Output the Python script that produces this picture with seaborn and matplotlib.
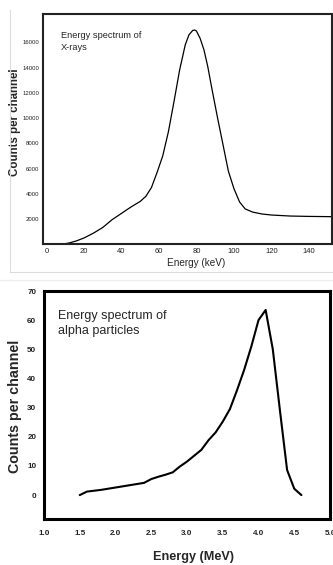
import numpy as np
import pandas as pd
import matplotlib
matplotlib.use("Agg")
import matplotlib.pyplot as plt
from matplotlib.lines import Line2D
import seaborn as sns

# X-ray spectrum (keV, counts per channel)
xray_energy = [8, 12, 16, 20, 25, 30, 35, 40, 45, 50, 53, 56, 59, 62, 65, 68, 71, 74,
               76, 78, 79, 80, 82, 84, 86, 88, 91, 94, 97, 100, 103, 106, 110, 115, 120,
               130, 140, 152]
xray_counts = [0, 100, 270, 500, 880, 1330, 1950, 2450, 2950, 3400, 3800, 4500, 5700, 7000,
               8900, 11300, 13800, 15800, 16600, 16950, 16980, 16900, 16300, 15400, 14100,
               12500, 10200, 8000, 5800, 4400, 3350, 2800, 2550, 2400, 2320, 2240, 2210, 2190]

# alpha spectrum (MeV, counts per channel)
alpha_energy = [1.5, 1.6, 1.7, 1.8, 1.9, 2.0, 2.1, 2.2, 2.3, 2.4, 2.5, 2.6, 2.7, 2.8, 2.9, 3.0,
                3.1, 3.2, 3.3, 3.4, 3.5, 3.6, 3.7, 3.8, 3.9, 4.0, 4.1, 4.2, 4.3, 4.4, 4.5, 4.6]
alpha_counts = [0, 1.2, 1.5, 1.8, 2.2, 2.6, 3.0, 3.4, 3.8, 4.2, 5.5, 6.3, 7.0, 7.8, 9.8, 11.5,
                13.5, 15.5, 18.8, 21.5, 25.2, 29.5, 36, 43, 51, 60, 63.5, 50, 29, 8.6, 2.2, 0]

xray_xticks = [0, 20, 40, 60, 80, 100, 120, 140]
xray_yticks = [2000, 4000, 6000, 8000, 10000, 12000, 14000, 16000]
alpha_xticks = [1.0, 1.5, 2.0, 2.5, 3.0, 3.5, 4.0, 4.5, 5.0]
alpha_yticks = [0, 10, 20, 30, 40, 50, 60, 70]

sns.set_style("white")
plt.rcParams["font.family"] = ["Liberation Sans", "DejaVu Sans"]

fig = plt.figure(figsize=(3.33, 5.65), dpi=100)
W, H = 333, 565

def fx(px):
    return px / W

def fy(py):
    return 1 - py / H

# faint borders of the two source pictures
fig.add_artist(Line2D([fx(10), fx(10)], [fy(10), fy(272)], color="#dcdcdc", lw=0.8))
fig.add_artist(Line2D([fx(10), fx(333)], [fy(272), fy(272)], color="#dcdcdc", lw=0.8))
fig.add_artist(Line2D([0, 1], [fy(280), fy(280)], color="#ececec", lw=0.8))

# ---- top: X-rays ----
ax1 = fig.add_axes([fx(42.7), fy(244.3), fx(331.5 - 42.7), (244.3 - 14) / H])
df1 = pd.DataFrame({"energy": xray_energy, "counts": xray_counts})
sns.lineplot(data=df1, x="energy", y="counts", ax=ax1, color="black", lw=0.9)
ax1.set_xlim(-2, 152)
ax1.set_ylim(0, 18250)
ax1.set_xticks(xray_xticks)
ax1.set_yticks(xray_yticks)
ax1.tick_params(direction="in", length=3, width=0.8, color="#333333", pad=2.5)
ax1.tick_params(axis="x", labelsize=5.5, labelcolor="#222222")
ax1.tick_params(axis="y", labelsize=4.3, labelcolor="#222222")
for s in ax1.spines.values():
    s.set_linewidth(1.5)
    s.set_color("#222222")
ax1.set_xlabel("Energy (keV)", fontsize=7.2)
ax1.xaxis.set_label_coords(0.531, -0.06)
ax1.set_ylabel("Counts per channel", fontsize=8.3, fontweight="bold")
ax1.yaxis.set_label_coords(-0.074, 0.531)
ax1.text(0.062, 0.928, "Energy spectrum of\nX-rays", transform=ax1.transAxes,
         fontsize=6.7, va="top", ha="left", linespacing=1.55)

# ---- bottom: alpha particles ----
ax2 = fig.add_axes([fx(44), fy(519.3), fx(330 - 44), (519.3 - 291) / H])
df2 = pd.DataFrame({"energy": alpha_energy, "counts": alpha_counts})
sns.lineplot(data=df2, x="energy", y="counts", ax=ax2, color="black", lw=1.5)
ax2.set_xlim(1.0, 5.0)
ax2.set_ylim(-8.3, 70)
ax2.set_xticks(alpha_xticks)
ax2.set_xticklabels([f"{v:.1f}" for v in alpha_xticks])
ax2.set_yticks(alpha_yticks)
ax2.tick_params(direction="out", length=2.5, width=0.9, color="#222222", pad=3)
ax2.tick_params(axis="x", pad=5.5)
ax2.tick_params(axis="both", labelsize=5.8)
for lab in ax2.get_xticklabels() + ax2.get_yticklabels():
    lab.set_fontweight("bold")
    lab.set_color("#222222")
for s in ax2.spines.values():
    s.set_linewidth(2.2)
    s.set_color("black")
ax2.set_xlabel("Energy (MeV)", fontsize=9.1, fontweight="bold")
ax2.xaxis.set_label_coords(0.523, -0.14)
ax2.set_ylabel("Counts per channel", fontsize=10.3, fontweight="bold")
ax2.yaxis.set_label_coords(-0.078, 0.496)
ax2.text(0.049, 0.915, "Energy spectrum of\nalpha particles", transform=ax2.transAxes,
         fontsize=9, va="top", ha="left", linespacing=1.3)

fig.savefig("out.png", dpi=100)
